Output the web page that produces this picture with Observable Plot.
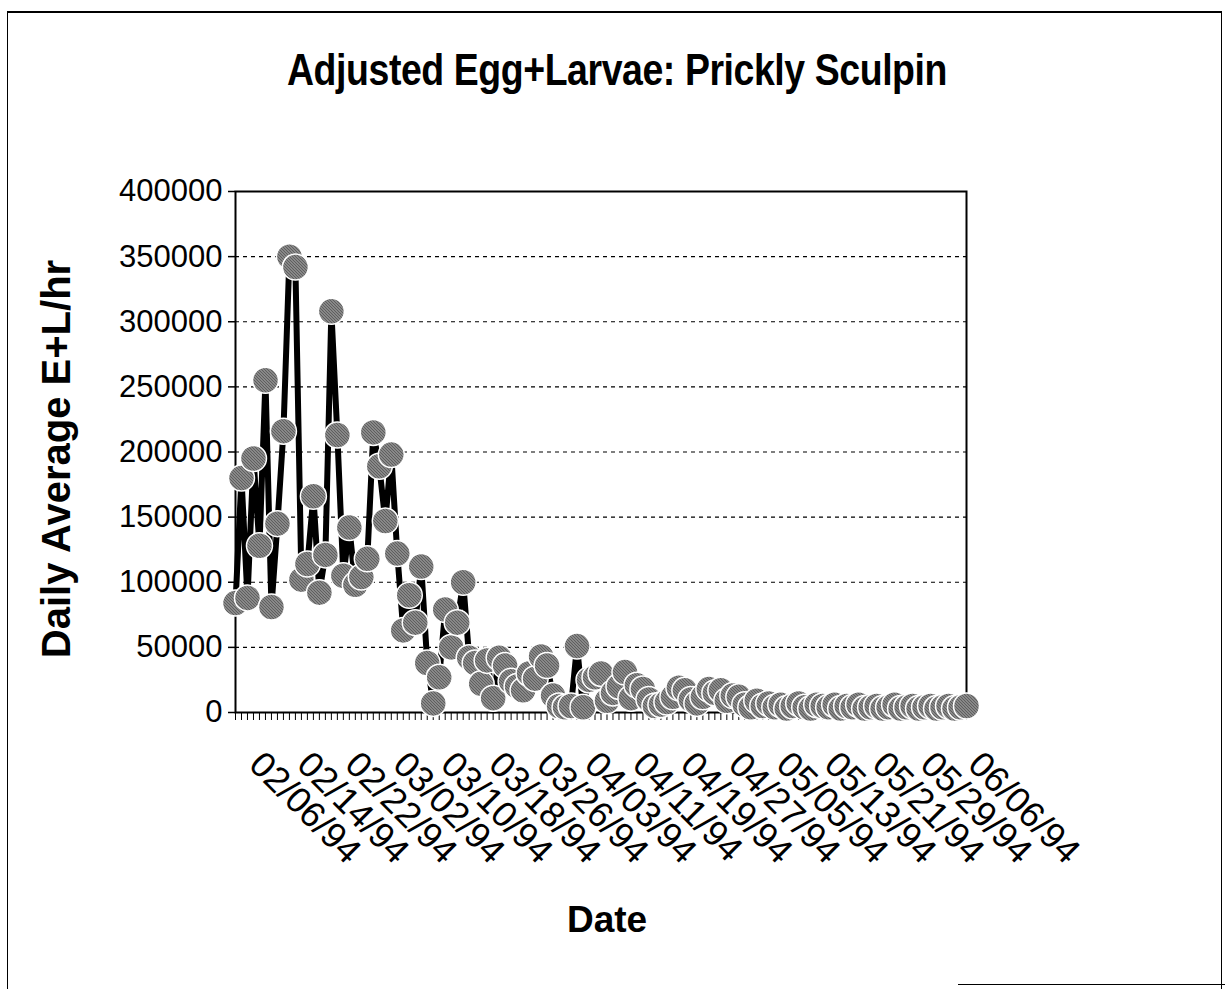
<!DOCTYPE html>
<html><head><meta charset="utf-8">
<script src="https://cdn.jsdelivr.net/npm/d3@7"></script>
<script src="https://cdn.jsdelivr.net/npm/@observablehq/plot@0.6"></script>
<style>
html,body{margin:0;padding:0;background:#fff;}
body{width:1225px;height:989px;position:relative;overflow:hidden;font-family:"Liberation Sans",Arial,sans-serif;}
#title{position:relative;width:1225px;height:120px;}
#title span{position:absolute;left:617px;top:70px;font-weight:bold;font-size:45px;white-space:nowrap;letter-spacing:-0.5px;color:#000;}
#chart{position:relative;width:1225px;}
.outer{position:absolute;left:7px;top:11px;width:1213px;height:990px;border-style:solid;border-color:#000;border-width:2px 1.5px 0 1.5px;pointer-events:none;}
.bottomseg{position:absolute;left:958px;top:984px;width:267px;height:0;border-top:1.5px solid #000;}
</style></head>
<body>
<div class="outer"></div>
<div class="bottomseg"></div>
<div id="title"><span>Adjusted Egg+Larvae: Prickly Sculpin</span></div>
<div id="chart"></div>
<script>
// Categories: daily sampling dates, 02/04/94 .. 06/06/94
const firstDate = "1994-02-04";
const lastDate = "1994-06-06";
// Daily average E+L/hr, one value per day
const values = [
  84000, 180000, 88000, 195000, 128000, 255000, 81000, 145000, 216000, 350000,
  342000, 102000, 114000, 166000, 92000, 121000, 308000, 213000, 105000, 142000,
  98000, 104000, 118000, 215000, 189000, 147000, 198000, 122000, 63000, 90000,
  69000, 112000, 38000, 7000, 27000, 79000, 50000, 69000, 100000, 42000,
  38000, 22000, 40000, 11000, 42000, 36000, 24000, 20000, 17000, 30000,
  26000, 43000, 36000, 13000, 5000, 4000, 5000, 51000, 4000, 25000,
  27000, 30000, 9000, 15000, 20000, 31000, 11000, 21000, 18000, 10000,
  5000, 6000, 8000, 12000, 19000, 17000, 10000, 7000, 12000, 18000,
  15000, 17000, 9000, 13000, 12000, 6000, 4000, 9000, 5000, 7000,
  4000, 6000, 3000, 5000, 7000, 4000, 3000, 6000, 5000, 4000,
  6000, 3000, 5000, 4000, 6000, 3000, 4000, 5000, 3000, 4000,
  6000, 3000, 4000, 5000, 3000, 4000, 5000, 3000, 4000, 5000,
  3000, 4000, 5000
];
// Tick labels on the x axis
const xTickLabels = ["02/06/94","02/14/94","02/22/94","03/02/94","03/10/94","03/18/94","03/26/94","04/03/94",
  "04/11/94","04/19/94","04/27/94","05/05/94","05/13/94","05/21/94","05/29/94","06/06/94"];
const yTicks = [0, 50000, 100000, 150000, 200000, 250000, 300000, 350000, 400000];
const gridValues = [50000, 100000, 150000, 200000, 250000, 300000, 350000];

const parseISO = d3.utcParse("%Y-%m-%d");
const parseLbl = d3.utcParse("%m/%d/%y");
const fmt = d3.utcFormat("%m/%d/%y");
const dates = d3.utcDay.range(parseISO(firstDate), d3.utcDay.offset(parseISO(lastDate), 1));
const data = dates.map((date, i) => ({date, value: values[i]}));
const labelDates = xTickLabels.map(parseLbl);

const chart = Plot.plot({
  width: 1225, height: 860,
  marginLeft: 235, marginRight: 259, marginTop: 71, marginBottom: 268,
  x: {type: "utc", domain: [dates[0], dates[dates.length - 1]]},
  y: {domain: [0, 400000]},
  style: {fontFamily: "'Liberation Sans', Arial, sans-serif", color: "#000", background: "transparent", overflow: "visible"},
  marks: [
    Plot.ruleY(gridValues, {stroke: "#000", strokeWidth: 1.2, strokeDasharray: "4,4", strokeOpacity: 1}),
    Plot.frame({stroke: "#000", strokeWidth: 2}),
    Plot.axisY({ticks: yTicks, tickSize: 7, tickPadding: 6, fontSize: 31, tickFormat: d => String(d), label: null, strokeWidth: 1.5}),
    Plot.axisX({ticks: dates, tickSize: 8, tickFormat: () => "", label: null, strokeWidth: 1}),
    Plot.axisX({ticks: labelDates, tickSize: 0, tickRotate: 45, fontSize: 36, tickFormat: fmt, label: null, dx: 8, dy: 34}),
    Plot.text(["Daily Average E+L/hr"], {frameAnchor: "left", textAnchor: "middle", rotate: -90, dx: -178, dy: 7, fontSize: 40, fontWeight: "bold"}),
    Plot.text(["Date"], {frameAnchor: "bottom", dx: 6, dy: 207, fontSize: 37, fontWeight: "bold"}),
    Plot.line(data, {x: "date", y: "value", stroke: "#000", strokeWidth: 6}),
    Plot.dot(data, {x: "date", y: "value", r: 13, fill: "url(#hatch)", stroke: "#fff", strokeWidth: 1.5})
  ]
});
const defs = d3.select(chart).insert("defs", ":first-child");
const pat = defs.append("pattern").attr("id", "hatch").attr("patternUnits", "userSpaceOnUse").attr("width", 3).attr("height", 3);
pat.append("rect").attr("width", 3).attr("height", 3).attr("fill", "#fff");
pat.append("path").attr("d", "M-1,-1L4,4M-1,2L1,4M2,-1L4,1").attr("stroke", "#000").attr("stroke-width", 1.15);
document.getElementById("chart").appendChild(chart);

// position "Date" so its glyphs sit where the reference has them
const dateLbl = Array.from(chart.querySelectorAll("text")).find(n => n.textContent === "Date");
if (dateLbl) dateLbl.setAttribute("dy", "0.35em");

// fit the condensed bold title to the reference width
const t = document.querySelector("#title span");
const w = t.getBoundingClientRect().width;
t.style.transform = `translate(-50%,-50%) scaleX(${660 / w})`;
</script>
</body></html>
